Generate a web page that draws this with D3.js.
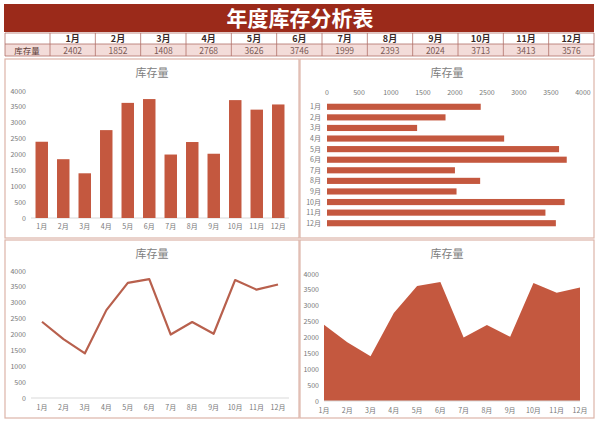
<!DOCTYPE html>
<html>
<head>
<meta charset="utf-8">
<script src="https://cdn.jsdelivr.net/npm/d3@7"></script>
<style>
  body { margin: 0; background: #fff; }
  svg text { font-family: "Noto Sans CJK SC", "DejaVu Sans", sans-serif; }
</style>
</head>
<body>
<svg id="chart" width="597" height="424"></svg>
<script>
// datos
let meses = ["1月","2月","3月","4月","5月","6月","7月","8月","9月","10月","11月","12月"];
let inventario = [2402,1852,1408,2768,3626,3746,1999,2393,2024,3713,3413,3576];
let yticks = [0,500,1000,1500,2000,2500,3000,3500,4000];
let titulo = "年度库存分析表";
let serie = "库存量";

let rojo = "#c4583f";
let gris = "#777";

let svg = d3.select("#chart");

// banner
svg.append("rect").attr("x",4).attr("y",4).attr("width",590).attr("height",28).style("fill","#9b2a1a");
svg.append("text").attr("x",300).attr("y",26).text(titulo)
    .style("fill","white").style("font-size","21px").style("font-weight","bold")
    .style("text-anchor","middle");

// tabla
let colx = d3.scaleBand().domain(meses).range([50,594]);
let t = svg.append("g");
t.append("rect").attr("x",5).attr("y",33).attr("width",589).attr("height",11).style("fill","#fff");
t.append("rect").attr("x",5).attr("y",44).attr("width",589).attr("height",12).style("fill","#f3dcd9");
t.selectAll(".cab").data(meses).enter().append("text")
    .attr("x",d => colx(d) + colx.bandwidth()/2).attr("y",42)
    .text(d => d).style("text-anchor","middle").style("font-size","9px")
    .style("font-weight","bold").style("fill","#3a2a28");
t.selectAll(".val").data(inventario).enter().append("text")
    .attr("x",(d,i) => colx(meses[i]) + colx.bandwidth()/2).attr("y",53.5)
    .text(d => d).style("text-anchor","middle").style("font-size","8.5px").style("fill","#7a5a55");
t.append("text").attr("x",27).attr("y",53.5).text(serie)
    .style("text-anchor","middle").style("font-size","8.5px").style("fill","#5a3a35");
[5,50].concat(meses.map(d => colx(d) + colx.bandwidth())).forEach(x => {
    t.append("line").attr("x1",x).attr("x2",x).attr("y1",33).attr("y2",56)
        .style("stroke","#b07068").style("stroke-width",0.8);
});
[33,44,56].forEach(y => {
    t.append("line").attr("x1",5).attr("x2",594).attr("y1",y).attr("y2",y)
        .style("stroke","#b07068").style("stroke-width",0.8);
});

// paneles
let paneles = [
    {x:5, y:59, w:294, h:179, tx:152},
    {x:300, y:59, w:294, h:179, tx:447},
    {x:5, y:240, w:294, h:178, tx:152},
    {x:300, y:240, w:294, h:178, tx:447}
];
paneles.forEach(p => {
    svg.append("rect").attr("x",p.x).attr("y",p.y).attr("width",p.w).attr("height",p.h)
        .style("fill","white").style("stroke","#dcb4a8").style("stroke-width",1.2);
    svg.append("text").attr("x",p.tx).attr("y",p.y + 18).text(serie)
        .style("text-anchor","middle").style("font-size","11px").style("fill","#808080");
});

function ejeY(g, y, x) {
    g.selectAll(".yt").data(yticks).enter().append("text")
        .attr("x",x).attr("y",d => y(d) + 2.5).text(d => d)
        .style("text-anchor","end").style("font-size","7px").style("fill",gris);
}
function ejeX(g, x, y, off) {
    g.selectAll(".xt").data(meses).enter().append("text")
        .attr("x",d => x(d) + off).attr("y",y).text(d => d)
        .style("text-anchor","middle").style("font-size","7px").style("fill",gris);
}

// 1: columnas
let g1 = svg.append("g");
let x1 = d3.scaleBand().domain(meses).range([31,289]).paddingInner(0.42).paddingOuter(0.21);
let y1 = d3.scaleLinear().domain([0,4000]).range([218,91]);
ejeY(g1, y1, 26);
g1.append("line").attr("x1",31).attr("x2",289).attr("y1",y1(0)).attr("y2",y1(0)).style("stroke","#d9d9d9");
g1.selectAll("rect").data(inventario).enter().append("rect")
    .attr("x",(d,i) => x1(meses[i])).attr("y",d => y1(d))
    .attr("width",x1.bandwidth()).attr("height",d => y1(0) - y1(d)).style("fill",rojo);
ejeX(g1, x1, 229, x1.bandwidth()/2);

// 2: barras
let g2 = svg.append("g");
let x2 = d3.scaleLinear().domain([0,4000]).range([327,583]);
let y2 = d3.scaleBand().domain(meses).range([101.5,228.5]).paddingInner(0.42).paddingOuter(0.21);
g2.selectAll(".xt2").data(yticks).enter().append("text")
    .attr("x",d => x2(d)).attr("y",95).text(d => d)
    .style("text-anchor","middle").style("font-size","7px").style("fill",gris);
g2.selectAll("rect").data(inventario).enter().append("rect")
    .attr("x",x2(0)).attr("y",(d,i) => y2(meses[i]))
    .attr("width",d => x2(d) - x2(0)).attr("height",y2.bandwidth()).style("fill",rojo);
g2.selectAll(".yl").data(meses).enter().append("text")
    .attr("x",321).attr("y",d => y2(d) + y2.bandwidth()/2 + 2.5).text(d => d)
    .style("text-anchor","end").style("font-size","7px").style("fill",gris);

// 3: linea
let g3 = svg.append("g");
let x3 = d3.scalePoint().domain(meses).range([42,278]);
let y3 = d3.scaleLinear().domain([0,4000]).range([398,271]);
ejeY(g3, y3, 26);
g3.append("line").attr("x1",31).attr("x2",289).attr("y1",y3(0)).attr("y2",y3(0)).style("stroke","#d9d9d9");
g3.append("path").datum(inventario)
    .attr("d",d3.line().x((d,i) => x3(meses[i])).y(d => y3(d)))
    .style("fill","none").style("stroke","#b8604d").style("stroke-width",2.2).style("stroke-linejoin","round");
ejeX(g3, x3, 410, 0);

// 4: area
let g4 = svg.append("g");
let x4 = d3.scalePoint().domain(meses).range([324,580]);
let y4 = d3.scaleLinear().domain([0,4000]).range([401,274]);
ejeY(g4, y4, 319);
g4.append("path").datum(inventario)
    .attr("d",d3.area().x((d,i) => x4(meses[i])).y0(y4(0)).y1(d => y4(d)))
    .style("fill",rojo);
g4.append("line").attr("x1",324).attr("x2",580).attr("y1",y4(0)).attr("y2",y4(0)).style("stroke","#d9d9d9");
ejeX(g4, x4, 413, 0);
</script>
</body>
</html>
